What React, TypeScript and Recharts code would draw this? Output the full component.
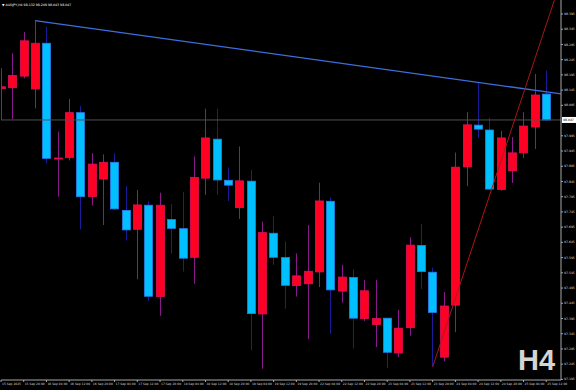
import { ComposedChart, Bar, XAxis, YAxis, ReferenceLine } from "recharts";

// AUDJPY H4 candles
const TIMES = [
  "15 Sep 2025", "15 Sep 20:00", "16 Sep 04:00", "16 Sep 12:00", "16 Sep 20:00",
  "17 Sep 04:00", "17 Sep 12:00", "17 Sep 20:00", "18 Sep 04:00", "18 Sep 12:00",
  "18 Sep 20:00", "19 Sep 04:00", "19 Sep 12:00", "19 Sep 20:00", "22 Sep 04:00",
  "22 Sep 12:00", "22 Sep 20:00", "23 Sep 04:00", "23 Sep 12:00", "23 Sep 20:00",
  "24 Sep 04:00", "24 Sep 12:00", "24 Sep 20:00", "25 Sep 04:00", "25 Sep 12:00",
];

const OPENS = [
  98.15, 98.153, 98.191, 98.149, 98.299, 97.92, 97.923, 98.071, 97.795, 97.853,
  97.908, 97.75, 97.688, 97.767, 97.467, 97.72, 97.69, 97.596, 97.856, 97.984,
  97.849, 97.759, 97.846, 97.41, 97.675, 97.595, 97.503, 97.509, 97.548, 97.78,
  97.485, 97.53, 97.395, 97.375, 97.396, 97.282, 97.365, 97.635, 97.547, 97.268,
  97.439, 97.893, 98.03, 98.014, 97.819, 97.88, 97.939, 98.024, 98.132,
];
const HIGHS = [
  98.217, 98.266, 98.336, 98.373, 98.353, 98.009, 98.116, 98.093, 97.938, 97.934,
  97.938, 97.83, 97.817, 97.781, 97.808, 97.771, 97.81, 97.927, 98.084, 98.084,
  97.891, 97.96, 97.883, 97.713, 97.732, 97.648, 97.609, 97.702, 97.841, 97.793,
  97.571, 97.557, 97.522, 97.522, 97.397, 97.423, 97.662, 97.706, 97.562, 97.482,
  97.94, 98.073, 98.168, 98.054, 98.011, 97.991, 98.073, 98.198, 98.209,
];
const LOWS = [
  98.047, 98.049, 98.184, 98.085, 97.905, 97.795, 97.914, 97.688, 97.766, 97.702,
  97.752, 97.651, 97.524, 97.453, 97.404, 97.609, 97.549, 97.509, 97.801, 97.801,
  97.781, 97.722, 97.29, 97.23, 97.571, 97.427, 97.467, 97.327, 97.498, 97.345,
  97.447, 97.297, 97.387, 97.301, 97.232, 97.268, 97.339, 97.492, 97.237, 97.254,
  97.35, 97.83, 97.988, 97.817, 97.815, 97.84, 97.922, 97.952, 98.043,
];
const CLOSES = [
  98.156, 98.193, 98.307, 98.299, 97.921, 97.922, 98.071, 97.795, 97.902, 97.908,
  97.755, 97.686, 97.768, 97.468, 97.767, 97.691, 97.593, 97.858, 97.988, 97.85,
  97.833, 97.847, 97.411, 97.677, 97.596, 97.504, 97.535, 97.55, 97.781, 97.489,
  97.531, 97.396, 97.486, 97.395, 97.284, 97.363, 97.636, 97.549, 97.415, 97.436,
  97.892, 98.031, 98.017, 97.82, 97.988, 97.939, 98.027, 98.129, 98.047,
];

const PRICE_TICKS = [
  98.395, 98.345, 98.295, 98.245, 98.195, 98.145, 98.095, 97.995, 97.945, 97.895,
  97.845, 97.795, 97.745, 97.695, 97.645, 97.595, 97.545, 97.495, 97.445, 97.395,
  97.345, 97.295, 97.245, 97.195,
];

// trend lines: [bar index, price]
const BLUE_TREND = [{ x: 3, y: 98.373 }, { x: 50, y: 98.129 }];
const RED_TREND = [{ x: 38, y: 97.236 }, { x: 50, y: 98.585 }];
const LAST_PRICE = 98.047;

const data = OPENS.map((o, i) => ({
  i,
  o,
  hi: HIGHS[i],
  lo: LOWS[i],
  c: CLOSES[i],
  range: [LOWS[i], HIGHS[i]],
}));

const FONT = "'DejaVu Sans', sans-serif";
const LABEL = "#d8d8d8";
const FRAME = "#a8a8a8";

function Candle(props: any) {
  const { x, y, width, height, payload } = props;
  const top = Math.min(y, y + height);
  const h = Math.abs(height);
  const { o, c, hi, lo } = payload;
  const k = h / (hi - lo);
  const bodyTop = top + (hi - Math.max(o, c)) * k;
  const bodyH = Math.max(Math.abs(o - c) * k, 1);
  const up = c >= o;
  const cx = Math.round(x + width / 2) + 0.5;
  return (
    <g>
      <line
        x1={cx}
        x2={cx}
        y1={top}
        y2={top + h}
        stroke={up ? "#8a1a8a" : "#1c1c9a"}
        strokeWidth={1}
      />
      <rect
        x={cx - 4}
        y={bodyTop}
        width={8}
        height={bodyH}
        fill={up ? "#ff0022" : "#00bfff"}
        stroke={up ? "#e0105a" : "#2a7ee8"}
        strokeWidth={0.8}
      />
    </g>
  );
}

function TimeTick(props: any) {
  const { x, y, payload } = props;
  return (
    <text x={x + 1} y={y + 3} fontSize={3} fill={LABEL} fontFamily={FONT}>
      {TIMES[payload.value / 2]}
    </text>
  );
}

function PriceTick(props: any) {
  const { x, y, payload } = props;
  return (
    <text x={x} y={y + 1.1} fontSize={3.1} fill={LABEL} fontFamily={FONT}>
      {payload.value.toFixed(3)}
    </text>
  );
}

function LastPriceLabel(props: any) {
  const { viewBox } = props;
  const bx = viewBox.x + viewBox.width + 1;
  return (
    <g>
      <rect x={bx} y={viewBox.y - 3} width={14} height={6} fill="#ffffff" />
      <text
        x={bx + 1}
        y={viewBox.y + 1.1}
        fontSize={3.1}
        fill="#000"
        fontFamily={FONT}
      >
        {LAST_PRICE.toFixed(3)}
      </text>
    </g>
  );
}

export default function App() {
  return (
    <div style={{ position: "relative", width: 576, height: 390, background: "#000" }}>
      <style>{`body{margin:0;background:#000}`}</style>
      <ComposedChart
        width={576}
        height={390}
        data={data}
        margin={{ top: 0, right: 0, bottom: 0, left: 1 }}
      >
        <XAxis
          dataKey="i"
          type="number"
          domain={[0, 49.3]}
          allowDataOverflow
          ticks={TIMES.map((_, k) => k * 2)}
          interval={0}
          height={10}
          tickSize={2}
          tickMargin={0}
          axisLine={{ stroke: FRAME }}
          tickLine={{ stroke: FRAME }}
          tick={<TimeTick />}
        />
        <XAxis
          xAxisId="top"
          orientation="top"
          type="number"
          domain={[0, 49.3]}
          height={0}
          tick={false}
          tickLine={false}
          axisLine={{ stroke: FRAME }}
        />
        <YAxis
          orientation="right"
          type="number"
          domain={[97.193, 98.441]}
          allowDataOverflow
          ticks={PRICE_TICKS}
          interval={0}
          width={15}
          tickSize={2}
          tickMargin={1}
          axisLine={{ stroke: FRAME }}
          tickLine={{ stroke: FRAME }}
          tick={<PriceTick />}
        />
        <YAxis
          yAxisId="left"
          orientation="left"
          type="number"
          domain={[97.193, 98.441]}
          width={0}
          tick={false}
          tickLine={false}
          axisLine={{ stroke: FRAME }}
        />
        <ReferenceLine
          y={LAST_PRICE}
          stroke="#505050"
          strokeWidth={1}
          label={<LastPriceLabel />}
        />
        <Bar
          dataKey="range"
          barSize={9}
          isAnimationActive={false}
          shape={<Candle />}
        />
        <ReferenceLine
          segment={BLUE_TREND}
          stroke="#3d6ee0"
          strokeWidth={1.3}
          ifOverflow="hidden"
        />
        <ReferenceLine
          segment={RED_TREND}
          stroke="#a81818"
          strokeWidth={1}
          ifOverflow="hidden"
        />
      </ComposedChart>
      <svg
        width={576}
        height={390}
        style={{ position: "absolute", left: 0, top: 0, pointerEvents: "none" }}
      >
        <text x={2} y={5.5} fontSize={3.2} fill="#ffffff" fontFamily={FONT}>
          ▼ AUDJPY,H4  98.132 98.209 98.043 98.047
        </text>
        <text
          x={518}
          y={370}
          fontSize={29}
          fontWeight="bold"
          fill="#d4d4d4"
          fontFamily="'Liberation Sans', Arial, sans-serif"
        >
          H4
        </text>
      </svg>
    </div>
  );
}
